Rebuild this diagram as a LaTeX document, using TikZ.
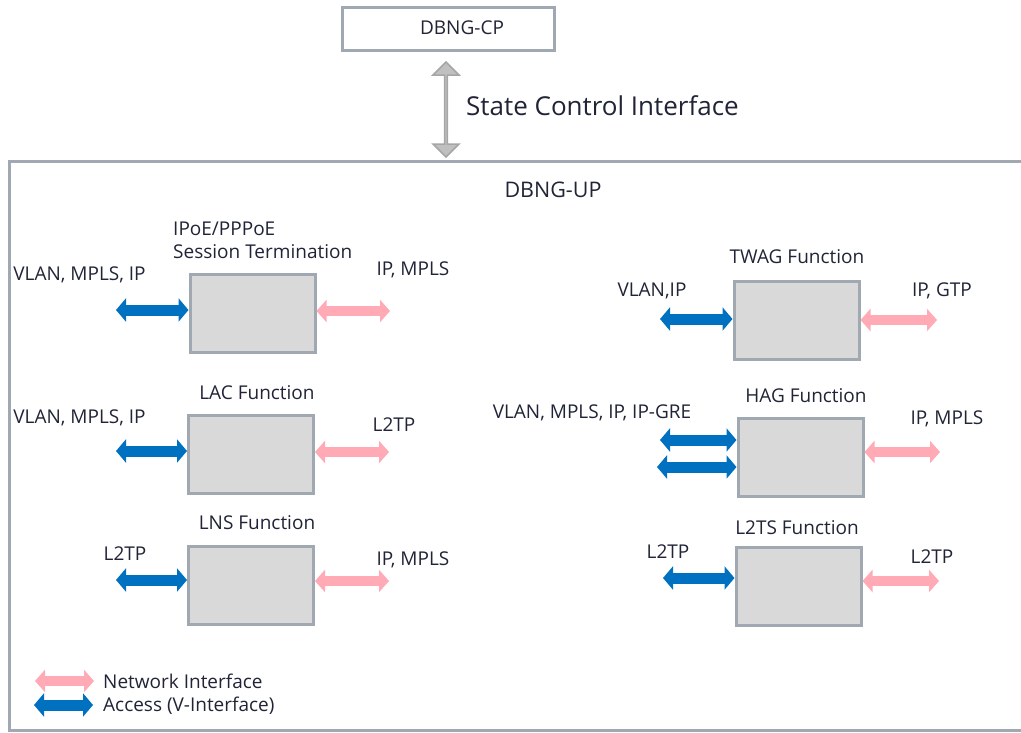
\documentclass[tikz,border=0pt]{standalone}
\usepackage{fontspec}
\setmainfont{Open Sans}
\usepackage{tikz}
\usetikzlibrary{arrows.meta}
\usetikzlibrary{shapes.arrows}
\usetikzlibrary{positioning}
\definecolor{boxline}{RGB}{160,168,178}
\definecolor{boxfill}{RGB}{217,217,217}
\definecolor{accblue}{RGB}{0,112,192}
\definecolor{netpink}{RGB}{255,170,180}
\definecolor{ctrlfill}{RGB}{192,192,192}
\definecolor{ctrlline}{RGB}{166,166,166}
\definecolor{txt}{RGB}{32,36,54}
\tikzset{func/.style={rectangle,draw=boxline,fill=boxfill,line width=3pt,minimum width=125pt,minimum height=78pt,inner sep=0pt}}
\tikzset{cpbox/.style={rectangle,draw=boxline,fill=white,line width=3pt,minimum width=212pt,minimum height=43pt,inner sep=0pt}}
\tikzset{upbox/.style={rectangle,draw=boxline,line width=3pt,minimum width=1026pt,minimum height=569pt,inner sep=0pt}}
\tikzset{ctrl/.style={double arrow,rotate=90,draw=ctrlline,fill=ctrlfill,line width=1.5pt,minimum height=95pt,minimum width=26pt,double arrow head extend=6pt,inner sep=0pt}}
\tikzset{acc/.style={draw=accblue,line width=11pt,{Triangle[width=23pt,length=10pt]}-{Triangle[width=23pt,length=10pt]}}}
\tikzset{net/.style={draw=netpink,line width=10pt,{Triangle[width=22pt,length=10pt]}-{Triangle[width=22pt,length=10pt]}}}
\tikzset{lbl/.style={text=txt,inner sep=0pt,font=\fontsize{19}{23}\selectfont}}

\begin{document}
\begin{tikzpicture}[x=1pt,y=-1pt]
\useasboundingbox (0,0) rectangle (1021,732);
% control plane and state control interface
\node[cpbox] (cp) at (448,28.5) {};
\node[lbl] (cptxt) at (462,28) {DBNG-CP};
\node[ctrl] (sci) at (446,109.5) {};
\node[lbl,anchor=west,font=\fontsize{26}{30}\selectfont] (scitxt) at (466,106) {State Control Interface};
% user plane
\node[upbox] (up) at (522,445.5) {};
\node[lbl,font=\fontsize{21.5}{25}\selectfont] (uptxt) at (553,190) {DBNG-UP};
% function boxes
\node[func] (ipoe) at (252.5,313) {};
\node[func] (lac) at (251,454) {};
\node[func] (lns) at (251,585.5) {};
\node[func] (twag) at (796.5,320.5) {};
\node[func] (hag) at (800.5,457.5) {};
\node[func] (l2ts) at (798.5,586.5) {};
\node[lbl,anchor=west,align=left] (ipoetxt) at (173,240.5) {IPoE/PPPoE\\Session Termination};
\node[lbl] (lactxt) at (257,393) {LAC Function};
\node[lbl] (lnstxt) at (257,523) {LNS Function};
\node[lbl] (twagtxt) at (797,257) {TWAG Function};
\node[lbl] (hagtxt) at (806,396) {HAG Function};
\node[lbl] (l2tstxt) at (797,528) {L2TS Function};
% access side (blue)
\coordinate (ai) at (116,310);
\coordinate (al) at (116,451);
\coordinate (an) at (116,580);
\coordinate (at) at (660,319);
\coordinate (ah) at (660,440);
\coordinate (ah2) at (657,467);
\coordinate (as) at (663,578);
\foreach \c/\b in {ai/ipoe,al/lac,an/lns,at/twag,ah/hag,ah2/hag,as/l2ts} {
	\draw[acc] (\c) -- (\c -| \b.west);
}
% network side (pink)
\coordinate (ni) at (390,311);
\coordinate (nl) at (389,452);
\coordinate (nn) at (389,581);
\coordinate (nt) at (937,320);
\coordinate (nh) at (940,452);
\coordinate (ns) at (939,581);
\foreach \c/\b in {ni/ipoe,nl/lac,nn/lns,nt/twag,nh/hag,ns/l2ts} {
	\draw[net] (\b.east |- \c) -- (\c);
}
% interface labels
\node[lbl] (aitxt) at (79.5,275) {VLAN, MPLS, IP};
\node[lbl] (nitxt) at (413,270) {IP, MPLS};
\node[lbl] (altxt) at (79.5,418) {VLAN, MPLS, IP};
\node[lbl] (nltxt) at (394,425) {L2TP};
\node[lbl] (antxt) at (125,554) {L2TP};
\node[lbl] (nntxt) at (413,560) {IP, MPLS};
\node[lbl] (attxt) at (652,291) {VLAN,IP};
\node[lbl] (nttxt) at (942,291) {IP, GTP};
\node[lbl] (ahtxt) at (592,413) {VLAN, MPLS, IP, IP-GRE};
\node[lbl] (nhtxt) at (947,419) {IP, MPLS};
\node[lbl] (astxt) at (668,552) {L2TP};
\node[lbl] (nstxt) at (932,557) {L2TP};
% legend
\coordinate (lg1a) at (35,681);
\coordinate (lg1b) at (94,681);
\coordinate (lg2a) at (34,705);
\coordinate (lg2b) at (93,705);
\draw[net] (lg1a) -- (lg1b);
\draw[acc] (lg2a) -- (lg2b);
\node[lbl,anchor=west] (lg1txt) at (103,681) {Network Interface};
\node[lbl,anchor=west] (lg2txt) at (103,706) {Access (V-Interface)};
\end{tikzpicture}
\end{document}
